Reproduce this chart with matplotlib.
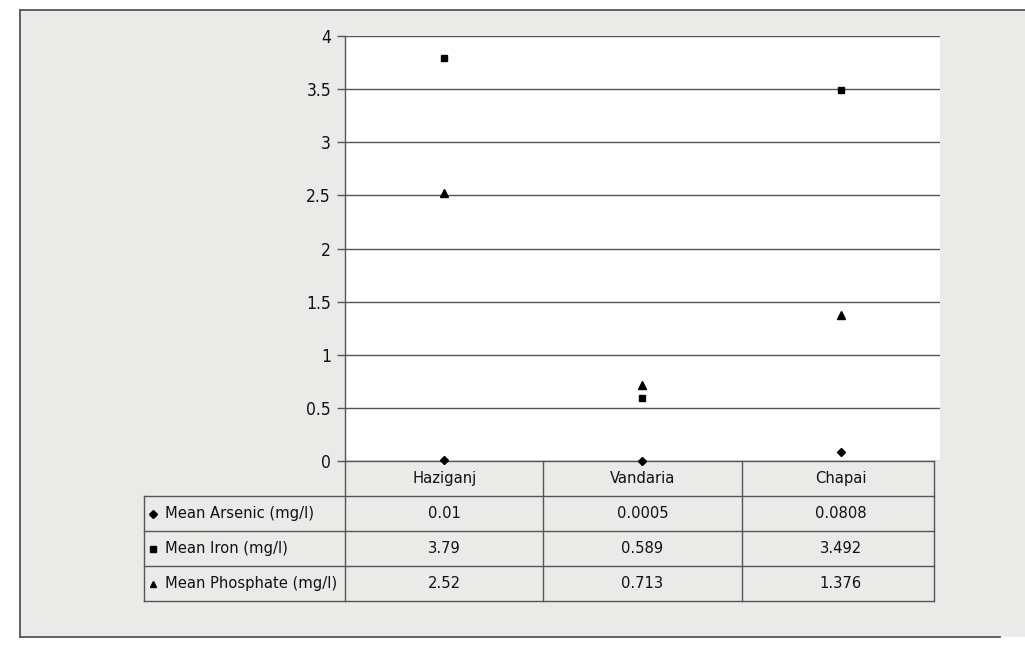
import matplotlib
matplotlib.use("Agg")
import matplotlib.pyplot as plt
from matplotlib import font_manager
from matplotlib.font_manager import FontProperties
from matplotlib.lines import Line2D
from matplotlib.patches import Rectangle
from matplotlib.transforms import blended_transform_factory

# Water quality by site
sites = ["Haziganj", "Vandaria", "Chapai"]
series_names = ["Mean Arsenic (mg/l)", "Mean Iron (mg/l)", "Mean Phosphate (mg/l)"]
arsenic = [0.01, 0.0005, 0.0808]
iron = [3.79, 0.589, 3.492]
phosphate = [2.52, 0.713, 1.376]
series_values = [arsenic, iron, phosphate]
series_markers = ["D", "s", "^"]
y_ticks = [0, 0.5, 1, 1.5, 2, 2.5, 3, 3.5, 4]

# prefer a narrow sans face when one is installed
narrow = None
for f in font_manager.fontManager.ttflist:
    is_narrow = ("Narrow" in f.name or "Condensed" in f.name
                 or f.stretch in ("condensed", "semi-condensed", 300, 400))
    if is_narrow and f.weight in ("normal", "regular", 400) and f.style == "normal":
        if narrow is None or "Liberation" in f.name:
            narrow = f
if narrow is not None:
    text_font = FontProperties(fname=narrow.fname)
else:
    text_font = FontProperties(family=["Liberation Sans", "DejaVu Sans"])
plt.rcParams["font.family"] = ["Liberation Sans", "DejaVu Sans"]

W, H = 1025, 648
fig = plt.figure(figsize=(W / 100, H / 100), dpi=100)
fig.patch.set_facecolor("white")


def fx(px):
    return px / W


def fy(py):
    return 1 - py / H


# chart area background and frame
fig.patches.append(Rectangle((fx(20), fy(637)), fx(W - 20) + 0.01, (637 - 10) / H,
                             transform=fig.transFigure, fc="#eaeae8", ec="none", zorder=-5))
frame_kw = dict(transform=fig.transFigure, color="#555555", lw=1.3, zorder=-4)
fig.lines.append(Line2D([fx(20), fx(20)], [fy(10), fy(637)], **frame_kw))
fig.lines.append(Line2D([fx(20), 1.0], [fy(10), fy(10)], **frame_kw))
fig.lines.append(Line2D([fx(20), fx(1000)], [fy(637), fy(637)], **frame_kw))

# plot area
left, right, top, bottom = 345, 940, 36, 461
ax = fig.add_axes([fx(left), fy(bottom), fx(right - left), (bottom - top) / H])
ax.set_facecolor("white")
ax.set_xlim(-0.5, len(sites) - 0.5)
ax.set_ylim(0, 4)
ax.set_yticks(y_ticks)
ax.set_yticklabels([f"{t:g}" for t in y_ticks])
ax.set_xticks([])
for side in ("top", "right", "bottom"):
    ax.spines[side].set_visible(False)
ax.spines["left"].set_color("#555555")
ax.spines["left"].set_linewidth(1.0)
ax.yaxis.grid(True, color="#555555", lw=1.0)
ax.set_axisbelow(True)
ax.tick_params(axis="y", direction="out", length=6, width=1.0, color="#555555",
               pad=4, labelcolor="#111111")
for lab in ax.get_yticklabels():
    lab.set_fontproperties(text_font)
    lab.set_fontsize(12.5)

xs = list(range(len(sites)))
marker_sizes = {"D": 4, "s": 4.5, "^": 5.5}
for vals, mk in zip(series_values, series_markers):
    ax.plot(xs, vals, linestyle="none", marker=mk, ms=marker_sizes[mk],
            color="black", clip_on=False, zorder=5)

# data table below the plot
trans = blended_transform_factory(ax.transData, ax.transAxes)
plot_h = bottom - top
col_px = (right - left) / len(sites)
row_h = 35 / plot_h
label_left = -0.5 - (left - 144) / col_px
col_edges = [i - 0.5 for i in xs] + [len(sites) - 0.53]
line_kw = dict(transform=trans, color="#555555", lw=1.0, clip_on=False)

n_rows = len(series_names)
table_bottom = -row_h * (n_rows + 1)
# vertical lines for data columns
for e in col_edges:
    ax.add_line(Line2D([e, e], [0, table_bottom], **line_kw))
ax.add_line(Line2D([label_left, label_left], [-row_h, table_bottom], **line_kw))
# horizontal lines
ax.add_line(Line2D([col_edges[0], col_edges[-1]], [0, 0], **line_kw))
for r in range(1, n_rows + 2):
    ax.add_line(Line2D([label_left, col_edges[-1]], [-row_h * r, -row_h * r], **line_kw))

text_size = 11.8
text_kw = dict(transform=trans, fontproperties=text_font, color="#111111", clip_on=False)
for i, name in enumerate(sites):
    t = ax.text(xs[i], -row_h * 0.5, name, ha="center", va="center", **text_kw)
    t.set_fontsize(text_size)

key_sizes = {"D": 3.8, "s": 3.8, "^": 4.2}
for r, (name, vals, mk) in enumerate(zip(series_names, series_values, series_markers)):
    yc = -row_h * (r + 1.5)
    ax.plot([label_left + 9 / col_px], [yc], marker=mk, ms=key_sizes[mk], color="black",
            transform=trans, clip_on=False, linestyle="none")
    t = ax.text(label_left + 21 / col_px, yc, name, ha="left", va="center", **text_kw)
    t.set_fontsize(text_size)
    for i, v in enumerate(vals):
        t = ax.text(xs[i], yc, f"{v:g}", ha="center", va="center", **text_kw)
        t.set_fontsize(text_size)

fig.savefig("out.png", dpi=100)
